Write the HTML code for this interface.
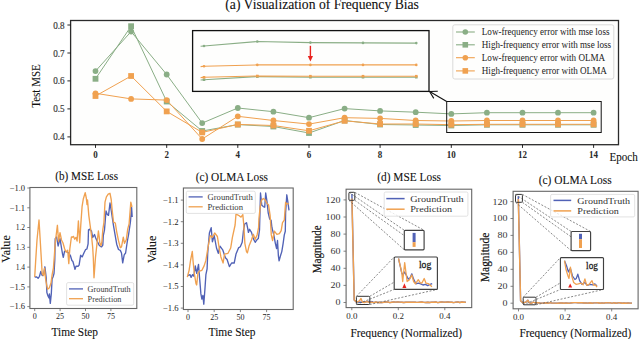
<!DOCTYPE html>
<html><head><meta charset="utf-8"><style>html,body{margin:0;padding:0;background:#fff;}svg{display:block;}</style></head>
<body><svg width="640" height="339" viewBox="0 0 640 339" font-family="Liberation Serif">
<rect width="640" height="339" fill="#fff"/>
<rect x="70.6" y="20.5" width="547.9" height="124.2" fill="#fefefd" stroke="#2a2a2a" stroke-width="1.3"/>
<line x1="67.4" y1="136.9" x2="70.6" y2="136.9" stroke="#111" stroke-width="0.9"/>
<text x="64.6" y="140.4" font-size="9.8" text-anchor="end" font-weight="normal" fill="#3c3c3c" font-family="Liberation Serif" textLength="11.4" lengthAdjust="spacingAndGlyphs" stroke="#3c3c3c" stroke-width="0.20">0.4</text>
<line x1="67.4" y1="108.9" x2="70.6" y2="108.9" stroke="#111" stroke-width="0.9"/>
<text x="64.6" y="112.4" font-size="9.8" text-anchor="end" font-weight="normal" fill="#3c3c3c" font-family="Liberation Serif" textLength="11.4" lengthAdjust="spacingAndGlyphs" stroke="#3c3c3c" stroke-width="0.20">0.5</text>
<line x1="67.4" y1="80.9" x2="70.6" y2="80.9" stroke="#111" stroke-width="0.9"/>
<text x="64.6" y="84.4" font-size="9.8" text-anchor="end" font-weight="normal" fill="#3c3c3c" font-family="Liberation Serif" textLength="11.4" lengthAdjust="spacingAndGlyphs" stroke="#3c3c3c" stroke-width="0.20">0.6</text>
<line x1="67.4" y1="53.0" x2="70.6" y2="53.0" stroke="#111" stroke-width="0.9"/>
<text x="64.6" y="56.5" font-size="9.8" text-anchor="end" font-weight="normal" fill="#3c3c3c" font-family="Liberation Serif" textLength="11.4" lengthAdjust="spacingAndGlyphs" stroke="#3c3c3c" stroke-width="0.20">0.7</text>
<line x1="67.4" y1="25.0" x2="70.6" y2="25.0" stroke="#111" stroke-width="0.9"/>
<text x="64.6" y="28.5" font-size="9.8" text-anchor="end" font-weight="normal" fill="#3c3c3c" font-family="Liberation Serif" textLength="11.4" lengthAdjust="spacingAndGlyphs" stroke="#3c3c3c" stroke-width="0.20">0.8</text>
<line x1="95.5" y1="144.7" x2="95.5" y2="147.9" stroke="#111" stroke-width="0.9"/>
<text x="95.5" y="158.0" font-size="9.8" text-anchor="middle" font-weight="bold" fill="#2a2a2a" font-family="Liberation Serif" textLength="4.5" lengthAdjust="spacingAndGlyphs">0</text>
<line x1="166.7" y1="144.7" x2="166.7" y2="147.9" stroke="#111" stroke-width="0.9"/>
<text x="166.7" y="158.0" font-size="9.8" text-anchor="middle" font-weight="bold" fill="#2a2a2a" font-family="Liberation Serif" textLength="4.5" lengthAdjust="spacingAndGlyphs">2</text>
<line x1="237.8" y1="144.7" x2="237.8" y2="147.9" stroke="#111" stroke-width="0.9"/>
<text x="237.8" y="158.0" font-size="9.8" text-anchor="middle" font-weight="bold" fill="#2a2a2a" font-family="Liberation Serif" textLength="4.5" lengthAdjust="spacingAndGlyphs">4</text>
<line x1="309.0" y1="144.7" x2="309.0" y2="147.9" stroke="#111" stroke-width="0.9"/>
<text x="309.0" y="158.0" font-size="9.8" text-anchor="middle" font-weight="bold" fill="#2a2a2a" font-family="Liberation Serif" textLength="4.5" lengthAdjust="spacingAndGlyphs">6</text>
<line x1="380.1" y1="144.7" x2="380.1" y2="147.9" stroke="#111" stroke-width="0.9"/>
<text x="380.1" y="158.0" font-size="9.8" text-anchor="middle" font-weight="bold" fill="#2a2a2a" font-family="Liberation Serif" textLength="4.5" lengthAdjust="spacingAndGlyphs">8</text>
<line x1="451.3" y1="144.7" x2="451.3" y2="147.9" stroke="#111" stroke-width="0.9"/>
<text x="451.3" y="158.0" font-size="9.8" text-anchor="middle" font-weight="bold" fill="#2a2a2a" font-family="Liberation Serif" textLength="9.0" lengthAdjust="spacingAndGlyphs">10</text>
<line x1="522.5" y1="144.7" x2="522.5" y2="147.9" stroke="#111" stroke-width="0.9"/>
<text x="522.5" y="158.0" font-size="9.8" text-anchor="middle" font-weight="bold" fill="#2a2a2a" font-family="Liberation Serif" textLength="9.0" lengthAdjust="spacingAndGlyphs">12</text>
<line x1="593.6" y1="144.7" x2="593.6" y2="147.9" stroke="#111" stroke-width="0.9"/>
<text x="593.6" y="158.0" font-size="9.8" text-anchor="middle" font-weight="bold" fill="#2a2a2a" font-family="Liberation Serif" textLength="9.0" lengthAdjust="spacingAndGlyphs">14</text>
<text x="609.5" y="161.4" font-size="12.4" text-anchor="start" font-weight="normal" fill="#111" font-family="Liberation Serif" textLength="28.3" lengthAdjust="spacingAndGlyphs" stroke="#111" stroke-width="0.10">Epoch</text>
<text transform="translate(40.2,86) rotate(-90)" x="0" y="0" font-size="12.2" text-anchor="middle" font-family="Liberation Serif" fill="#111" stroke="#111" stroke-width="0.1" textLength="43.6" lengthAdjust="spacingAndGlyphs">Test MSE</text>
<text x="225.3" y="9.0" font-size="13.8" text-anchor="start" font-weight="normal" fill="#111" font-family="Liberation Serif" textLength="193.6" lengthAdjust="spacingAndGlyphs" stroke="#111" stroke-width="0.10">(a) Visualization of Frequency Bias</text>
<polyline points="95.5,71.1 131.1,31.6 166.7,74.5 202.2,123.1 237.8,108.0 273.4,111.7 309.0,117.7 344.6,108.6 380.1,110.9 415.7,112.2 451.3,113.9 486.9,112.7 522.5,112.7 558.0,112.7 593.6,112.7" fill="none" stroke="#8aae86" stroke-width="1.0" stroke-linejoin="round"/>
<circle cx="95.5" cy="71.1" r="2.9" fill="#8aae86"/>
<circle cx="131.1" cy="31.6" r="2.9" fill="#8aae86"/>
<circle cx="166.7" cy="74.5" r="2.9" fill="#8aae86"/>
<circle cx="202.2" cy="123.1" r="2.9" fill="#8aae86"/>
<circle cx="237.8" cy="108.0" r="2.9" fill="#8aae86"/>
<circle cx="273.4" cy="111.7" r="2.9" fill="#8aae86"/>
<circle cx="309.0" cy="117.7" r="2.9" fill="#8aae86"/>
<circle cx="344.6" cy="108.6" r="2.9" fill="#8aae86"/>
<circle cx="380.1" cy="110.9" r="2.9" fill="#8aae86"/>
<circle cx="415.7" cy="112.2" r="2.9" fill="#8aae86"/>
<circle cx="451.3" cy="113.9" r="2.9" fill="#8aae86"/>
<circle cx="486.9" cy="112.7" r="2.9" fill="#8aae86"/>
<circle cx="522.5" cy="112.7" r="2.9" fill="#8aae86"/>
<circle cx="558.0" cy="112.7" r="2.9" fill="#8aae86"/>
<circle cx="593.6" cy="112.7" r="2.9" fill="#8aae86"/>
<polyline points="95.5,78.8 131.1,26.2 166.7,101.5 202.2,131.0 237.8,124.6 273.4,126.5 309.0,133.0 344.6,120.5 380.1,124.5 415.7,125.0 451.3,125.5 486.9,124.8 522.5,124.8 558.0,124.8 593.6,124.8" fill="none" stroke="#8aae86" stroke-width="1.0" stroke-linejoin="round"/>
<rect x="92.6" y="75.9" width="5.8" height="5.8" fill="#8aae86"/>
<rect x="128.2" y="23.3" width="5.8" height="5.8" fill="#8aae86"/>
<rect x="163.8" y="98.6" width="5.8" height="5.8" fill="#8aae86"/>
<rect x="199.3" y="128.1" width="5.8" height="5.8" fill="#8aae86"/>
<rect x="234.9" y="121.7" width="5.8" height="5.8" fill="#8aae86"/>
<rect x="270.5" y="123.6" width="5.8" height="5.8" fill="#8aae86"/>
<rect x="306.1" y="130.1" width="5.8" height="5.8" fill="#8aae86"/>
<rect x="341.7" y="117.6" width="5.8" height="5.8" fill="#8aae86"/>
<rect x="377.2" y="121.6" width="5.8" height="5.8" fill="#8aae86"/>
<rect x="412.8" y="122.1" width="5.8" height="5.8" fill="#8aae86"/>
<rect x="448.4" y="122.6" width="5.8" height="5.8" fill="#8aae86"/>
<rect x="484.0" y="121.9" width="5.8" height="5.8" fill="#8aae86"/>
<rect x="519.6" y="121.9" width="5.8" height="5.8" fill="#8aae86"/>
<rect x="555.1" y="121.9" width="5.8" height="5.8" fill="#8aae86"/>
<rect x="590.7" y="121.9" width="5.8" height="5.8" fill="#8aae86"/>
<polyline points="95.5,93.3 131.1,98.9 166.7,100.1 202.2,139.0 237.8,116.3 273.4,120.5 309.0,124.1 344.6,117.7 380.1,118.4 415.7,120.5 451.3,121.0 486.9,120.5 522.5,120.5 558.0,120.5 593.6,120.5" fill="none" stroke="#f0a150" stroke-width="1.0" stroke-linejoin="round"/>
<circle cx="95.5" cy="93.3" r="2.9" fill="#f0a150"/>
<circle cx="131.1" cy="98.9" r="2.9" fill="#f0a150"/>
<circle cx="166.7" cy="100.1" r="2.9" fill="#f0a150"/>
<circle cx="202.2" cy="139.0" r="2.9" fill="#f0a150"/>
<circle cx="237.8" cy="116.3" r="2.9" fill="#f0a150"/>
<circle cx="273.4" cy="120.5" r="2.9" fill="#f0a150"/>
<circle cx="309.0" cy="124.1" r="2.9" fill="#f0a150"/>
<circle cx="344.6" cy="117.7" r="2.9" fill="#f0a150"/>
<circle cx="380.1" cy="118.4" r="2.9" fill="#f0a150"/>
<circle cx="415.7" cy="120.5" r="2.9" fill="#f0a150"/>
<circle cx="451.3" cy="121.0" r="2.9" fill="#f0a150"/>
<circle cx="486.9" cy="120.5" r="2.9" fill="#f0a150"/>
<circle cx="522.5" cy="120.5" r="2.9" fill="#f0a150"/>
<circle cx="558.0" cy="120.5" r="2.9" fill="#f0a150"/>
<circle cx="593.6" cy="120.5" r="2.9" fill="#f0a150"/>
<polyline points="95.5,96.0 131.1,76.0 166.7,111.4 202.2,132.4 237.8,124.4 273.4,125.5 309.0,130.8 344.6,120.8 380.1,124.0 415.7,124.0 451.3,124.7 486.9,124.3 522.5,124.3 558.0,124.3 593.6,124.3" fill="none" stroke="#f0a150" stroke-width="1.0" stroke-linejoin="round"/>
<rect x="92.6" y="93.1" width="5.8" height="5.8" fill="#f0a150"/>
<rect x="128.2" y="73.1" width="5.8" height="5.8" fill="#f0a150"/>
<rect x="163.8" y="108.5" width="5.8" height="5.8" fill="#f0a150"/>
<rect x="199.3" y="129.5" width="5.8" height="5.8" fill="#f0a150"/>
<rect x="234.9" y="121.5" width="5.8" height="5.8" fill="#f0a150"/>
<rect x="270.5" y="122.6" width="5.8" height="5.8" fill="#f0a150"/>
<rect x="306.1" y="127.9" width="5.8" height="5.8" fill="#f0a150"/>
<rect x="341.7" y="117.9" width="5.8" height="5.8" fill="#f0a150"/>
<rect x="377.2" y="121.1" width="5.8" height="5.8" fill="#f0a150"/>
<rect x="412.8" y="121.1" width="5.8" height="5.8" fill="#f0a150"/>
<rect x="448.4" y="121.8" width="5.8" height="5.8" fill="#f0a150"/>
<rect x="484.0" y="121.4" width="5.8" height="5.8" fill="#f0a150"/>
<rect x="519.6" y="121.4" width="5.8" height="5.8" fill="#f0a150"/>
<rect x="555.1" y="121.4" width="5.8" height="5.8" fill="#f0a150"/>
<rect x="590.7" y="121.4" width="5.8" height="5.8" fill="#f0a150"/>
<rect x="446.7" y="101.5" width="154.5" height="31" fill="none" stroke="#111" stroke-width="1"/>
<rect x="192.6" y="30.6" width="236.4" height="60.8" fill="#fefefd" stroke="#111" stroke-width="1.3"/>
<polyline points="200.6,46.3 204.0,46.0 257.3,41.5 310.4,42.6 363.0,42.9 416.3,43.1" fill="none" stroke="#8aae86" stroke-width="1.1"/>
<circle cx="204.0" cy="46.0" r="1.3" fill="#8aae86"/>
<circle cx="257.3" cy="41.5" r="1.3" fill="#8aae86"/>
<circle cx="310.4" cy="42.6" r="1.3" fill="#8aae86"/>
<circle cx="363.0" cy="42.9" r="1.3" fill="#8aae86"/>
<circle cx="416.3" cy="43.1" r="1.3" fill="#8aae86"/>
<polyline points="200.6,80.0 204.0,79.7 257.3,76.6 310.4,77.2 363.0,77.2 416.3,77.2" fill="none" stroke="#8aae86" stroke-width="1.1"/>
<rect x="202.7" y="78.4" width="2.6" height="2.6" fill="#8aae86"/>
<rect x="256.0" y="75.3" width="2.6" height="2.6" fill="#8aae86"/>
<rect x="309.1" y="75.9" width="2.6" height="2.6" fill="#8aae86"/>
<rect x="361.7" y="75.9" width="2.6" height="2.6" fill="#8aae86"/>
<rect x="415.0" y="75.9" width="2.6" height="2.6" fill="#8aae86"/>
<polyline points="200.6,66.6 204.0,66.3 257.3,64.9 310.4,64.9 363.0,64.9 416.3,64.9" fill="none" stroke="#f0a150" stroke-width="1.1"/>
<circle cx="204.0" cy="66.3" r="1.3" fill="#f0a150"/>
<circle cx="257.3" cy="64.9" r="1.3" fill="#f0a150"/>
<circle cx="310.4" cy="64.9" r="1.3" fill="#f0a150"/>
<circle cx="363.0" cy="64.9" r="1.3" fill="#f0a150"/>
<circle cx="416.3" cy="64.9" r="1.3" fill="#f0a150"/>
<polyline points="200.6,77.6 204.0,77.3 257.3,76.0 310.4,76.2 363.0,76.2 416.3,76.2" fill="none" stroke="#f0a150" stroke-width="1.1"/>
<rect x="202.7" y="76.0" width="2.6" height="2.6" fill="#f0a150"/>
<rect x="256.0" y="74.7" width="2.6" height="2.6" fill="#f0a150"/>
<rect x="309.1" y="74.9" width="2.6" height="2.6" fill="#f0a150"/>
<rect x="361.7" y="74.9" width="2.6" height="2.6" fill="#f0a150"/>
<rect x="415.0" y="74.9" width="2.6" height="2.6" fill="#f0a150"/>
<line x1="310.4" y1="45.8" x2="310.4" y2="57" stroke="#e8231e" stroke-width="1.4"/>
<polygon points="307.8,56 313,56 310.4,61.5" fill="#e8231e"/>
<line x1="446.7" y1="101.5" x2="430.5" y2="92" stroke="#111" stroke-width="1.1"/>
<polyline points="437.8,91.3 429.6,91.5 433.8,98.4" fill="none" stroke="#111" stroke-width="1.1"/>
<rect x="452.8" y="24.8" width="161" height="54.2" rx="2" fill="#fefefd" stroke="#d6d6d6" stroke-width="0.9"/>
<line x1="456" y1="32.0" x2="474.8" y2="32.0" stroke="#8aae86" stroke-width="1.1"/>
<circle cx="465.3" cy="32.0" r="2.8" fill="#8aae86"/>
<text x="481.8" y="35.3" font-size="9.3" text-anchor="start" font-weight="normal" fill="#222" font-family="Liberation Serif" textLength="127.7" lengthAdjust="spacingAndGlyphs">Low-frequency error with mse loss</text>
<line x1="456" y1="44.8" x2="474.8" y2="44.8" stroke="#8aae86" stroke-width="1.1"/>
<rect x="462.5" y="42.0" width="5.6" height="5.6" fill="#8aae86"/>
<text x="481.8" y="48.1" font-size="9.3" text-anchor="start" font-weight="normal" fill="#222" font-family="Liberation Serif" textLength="129.3" lengthAdjust="spacingAndGlyphs">High-frequency error with mse loss</text>
<line x1="456" y1="57.7" x2="474.8" y2="57.7" stroke="#f0a150" stroke-width="1.1"/>
<circle cx="465.3" cy="57.7" r="2.8" fill="#f0a150"/>
<text x="481.8" y="61.0" font-size="9.3" text-anchor="start" font-weight="normal" fill="#222" font-family="Liberation Serif" textLength="123.4" lengthAdjust="spacingAndGlyphs">Low-frequency error with OLMA</text>
<line x1="456" y1="70.9" x2="474.8" y2="70.9" stroke="#f0a150" stroke-width="1.1"/>
<rect x="462.5" y="68.1" width="5.6" height="5.6" fill="#f0a150"/>
<text x="481.8" y="74.2" font-size="9.3" text-anchor="start" font-weight="normal" fill="#222" font-family="Liberation Serif" textLength="125.0" lengthAdjust="spacingAndGlyphs">High-frequency error with OLMA</text>
<rect x="29.9" y="187.5" width="106.9" height="121.0" fill="#fff" stroke="#666" stroke-width="1.1"/>
<line x1="27.3" y1="188.0" x2="29.9" y2="188.0" stroke="#666" stroke-width="0.8"/>
<text x="25.1" y="190.8" font-size="8.0" text-anchor="end" font-weight="normal" fill="#222" font-family="Liberation Serif" textLength="15.4" lengthAdjust="spacingAndGlyphs">−1.0</text>
<line x1="27.3" y1="207.8" x2="29.9" y2="207.8" stroke="#666" stroke-width="0.8"/>
<text x="25.1" y="210.6" font-size="8.0" text-anchor="end" font-weight="normal" fill="#222" font-family="Liberation Serif" textLength="15.4" lengthAdjust="spacingAndGlyphs">−1.1</text>
<line x1="27.3" y1="227.5" x2="29.9" y2="227.5" stroke="#666" stroke-width="0.8"/>
<text x="25.1" y="230.3" font-size="8.0" text-anchor="end" font-weight="normal" fill="#222" font-family="Liberation Serif" textLength="9.4" lengthAdjust="spacingAndGlyphs">1.2</text>
<line x1="27.3" y1="247.3" x2="29.9" y2="247.3" stroke="#666" stroke-width="0.8"/>
<text x="25.1" y="250.1" font-size="8.0" text-anchor="end" font-weight="normal" fill="#222" font-family="Liberation Serif" textLength="9.4" lengthAdjust="spacingAndGlyphs">1.3</text>
<line x1="27.3" y1="267.1" x2="29.9" y2="267.1" stroke="#666" stroke-width="0.8"/>
<text x="25.1" y="269.9" font-size="8.0" text-anchor="end" font-weight="normal" fill="#222" font-family="Liberation Serif" textLength="9.4" lengthAdjust="spacingAndGlyphs">1.4</text>
<line x1="27.3" y1="286.9" x2="29.9" y2="286.9" stroke="#666" stroke-width="0.8"/>
<text x="25.1" y="289.7" font-size="8.0" text-anchor="end" font-weight="normal" fill="#222" font-family="Liberation Serif" textLength="15.4" lengthAdjust="spacingAndGlyphs">−1.5</text>
<line x1="27.3" y1="306.6" x2="29.9" y2="306.6" stroke="#666" stroke-width="0.8"/>
<text x="25.1" y="309.4" font-size="8.0" text-anchor="end" font-weight="normal" fill="#222" font-family="Liberation Serif" textLength="15.4" lengthAdjust="spacingAndGlyphs">−1.6</text>
<line x1="34.7" y1="308.5" x2="34.7" y2="311.1" stroke="#666" stroke-width="0.8"/>
<text x="34.7" y="318.7" font-size="8.0" text-anchor="middle" font-weight="normal" fill="#222" font-family="Liberation Serif">0</text>
<line x1="60.1" y1="308.5" x2="60.1" y2="311.1" stroke="#666" stroke-width="0.8"/>
<text x="60.1" y="318.7" font-size="8.0" text-anchor="middle" font-weight="normal" fill="#222" font-family="Liberation Serif">25</text>
<line x1="85.5" y1="308.5" x2="85.5" y2="311.1" stroke="#666" stroke-width="0.8"/>
<text x="85.5" y="318.7" font-size="8.0" text-anchor="middle" font-weight="normal" fill="#222" font-family="Liberation Serif">50</text>
<line x1="110.9" y1="308.5" x2="110.9" y2="311.1" stroke="#666" stroke-width="0.8"/>
<text x="110.9" y="318.7" font-size="8.0" text-anchor="middle" font-weight="normal" fill="#222" font-family="Liberation Serif">75</text>
<text x="55.3" y="180.0" font-size="12.4" text-anchor="start" font-weight="normal" fill="#111" font-family="Liberation Serif" textLength="62.7" lengthAdjust="spacingAndGlyphs" stroke="#111" stroke-width="0.10">(b) MSE Loss</text>
<polyline points="34.7,277.0 36.7,277.0 38.1,278.3 39.5,276.3 40.8,271.5 42.2,275.6 43.5,274.9 44.9,266.8 46.2,277.6 46.9,292.6 48.0,296.0 49.0,298.0 49.4,293.9 50.3,303.4 51.3,293.9 52.1,279.0 53.0,277.0 54.0,273.6 54.8,260.0 55.2,238.6 56.6,237.0 58.1,246.0 60.0,238.6 61.5,248.0 62.6,254.3 63.3,257.4 64.6,251.2 66.7,251.7 68.3,252.7 70.3,255.3 71.9,260.5 72.9,261.5 73.9,265.1 75.0,269.3 76.0,266.2 78.1,266.2 79.1,265.1 80.6,255.3 82.2,256.9 84.0,252.7 85.5,249.7 86.9,249.0 88.1,243.8 88.5,229.8 89.8,229.2 91.5,231.0 92.7,237.5 94.5,234.5 95.7,238.0 97.4,241.6 99.2,245.2 100.4,246.3 101.6,246.9 102.8,245.2 103.3,235.7 104.5,229.8 106.0,211.0 107.3,214.5 108.5,215.4 110.0,203.0 111.3,211.0 113.5,225.6 115.3,236.2 116.7,244.2 118.5,249.5 120.3,250.4 121.5,253.0 122.7,262.8 124.2,254.8 125.6,253.0 127.3,241.5 128.6,234.5 130.4,222.1 131.6,207.5 132.2,217.0" fill="none" stroke="#5162b6" stroke-width="1.35" stroke-linejoin="round"/>
<polyline points="34.7,277.0 35.6,262.0 37.0,240.0 39.0,220.0 40.5,245.0 41.5,262.0 42.2,273.6 43.5,275.6 44.5,268.1 45.6,279.0 46.7,285.1 47.6,289.2 49.4,287.8 51.0,283.0 52.1,274.9 53.4,268.1 54.4,255.0 55.2,243.0 57.4,225.3 58.6,241.5 60.0,232.7 61.5,240.0 63.0,243.0 64.7,249.0 66.2,252.2 67.7,250.2 68.8,263.6 69.8,249.1 71.4,237.0 72.0,237.4 73.5,236.4 74.7,239.2 76.0,237.4 77.1,241.0 78.4,220.9 79.7,242.8 80.8,224.6 82.1,206.3 83.3,199.0 85.2,192.6 86.3,198.0 87.0,204.5 87.5,199.9 88.8,215.4 90.4,227.4 91.5,235.7 92.7,247.5 93.3,258.0 94.0,277.8 95.5,257.1 96.3,250.0 97.2,241.6 98.4,231.0 99.2,236.9 99.8,242.8 101.0,245.7 101.9,241.6 102.8,229.8 103.9,222.7 105.0,202.2 106.4,196.8 108.2,194.2 110.0,193.3 111.2,199.5 112.1,209.2 113.5,222.1 115.3,223.0 116.7,231.8 118.5,240.7 120.3,247.7 121.5,246.9 123.3,237.1 124.5,243.3 126.3,239.8 127.7,229.2 129.1,223.8 130.8,202.2 132.0,207.0" fill="none" stroke="#f0a150" stroke-width="1.35" stroke-linejoin="round"/>
<rect x="66.6" y="282.6" width="67.1" height="22.6" rx="1.5" fill="#fff" fill-opacity="0.85" stroke="#dadada" stroke-width="0.8"/>
<line x1="69.0" y1="288.9" x2="83.0" y2="288.9" stroke="#5162b6" stroke-width="1.3"/>
<line x1="69.0" y1="298.7" x2="83.0" y2="298.7" stroke="#f0a150" stroke-width="1.3"/>
<text x="87.6" y="291.8" font-size="8.9" text-anchor="start" font-weight="normal" fill="#3a3a3a" font-family="Liberation Serif" textLength="43.1" lengthAdjust="spacingAndGlyphs">GroundTruth</text>
<text x="87.6" y="301.6" font-size="8.9" text-anchor="start" font-weight="normal" fill="#3a3a3a" font-family="Liberation Serif" textLength="33.8" lengthAdjust="spacingAndGlyphs">Prediction</text>
<text x="51.5" y="336.0" font-size="12.8" text-anchor="start" font-weight="normal" fill="#111" font-family="Liberation Serif" textLength="46.5" lengthAdjust="spacingAndGlyphs" stroke="#111" stroke-width="0.10">Time Step</text>
<text transform="translate(10.2,249.0) rotate(-90)" x="0" y="0" font-size="13" text-anchor="middle" font-family="Liberation Serif" fill="#111" stroke="#111" stroke-width="0.12" textLength="27.5" lengthAdjust="spacingAndGlyphs">Value</text>
<rect x="183.4" y="188.0" width="109.8" height="121.5" fill="#fff" stroke="#666" stroke-width="1.1"/>
<line x1="180.8" y1="200.1" x2="183.4" y2="200.1" stroke="#666" stroke-width="0.8"/>
<text x="178.6" y="202.9" font-size="8.0" text-anchor="end" font-weight="normal" fill="#222" font-family="Liberation Serif" textLength="15.6" lengthAdjust="spacingAndGlyphs">−1.1</text>
<line x1="180.8" y1="221.7" x2="183.4" y2="221.7" stroke="#666" stroke-width="0.8"/>
<text x="178.6" y="224.5" font-size="8.0" text-anchor="end" font-weight="normal" fill="#222" font-family="Liberation Serif" textLength="15.6" lengthAdjust="spacingAndGlyphs">−1.2</text>
<line x1="180.8" y1="243.3" x2="183.4" y2="243.3" stroke="#666" stroke-width="0.8"/>
<text x="178.6" y="246.1" font-size="8.0" text-anchor="end" font-weight="normal" fill="#222" font-family="Liberation Serif" textLength="15.6" lengthAdjust="spacingAndGlyphs">−1.3</text>
<line x1="180.8" y1="264.9" x2="183.4" y2="264.9" stroke="#666" stroke-width="0.8"/>
<text x="178.6" y="267.7" font-size="8.0" text-anchor="end" font-weight="normal" fill="#222" font-family="Liberation Serif" textLength="15.6" lengthAdjust="spacingAndGlyphs">−1.4</text>
<line x1="180.8" y1="286.5" x2="183.4" y2="286.5" stroke="#666" stroke-width="0.8"/>
<text x="178.6" y="289.3" font-size="8.0" text-anchor="end" font-weight="normal" fill="#222" font-family="Liberation Serif" textLength="15.6" lengthAdjust="spacingAndGlyphs">−1.5</text>
<line x1="180.8" y1="308.1" x2="183.4" y2="308.1" stroke="#666" stroke-width="0.8"/>
<text x="178.6" y="310.9" font-size="8.0" text-anchor="end" font-weight="normal" fill="#222" font-family="Liberation Serif" textLength="15.6" lengthAdjust="spacingAndGlyphs">−1.6</text>
<line x1="188.0" y1="309.5" x2="188.0" y2="312.1" stroke="#666" stroke-width="0.8"/>
<text x="188.0" y="319.7" font-size="8.0" text-anchor="middle" font-weight="normal" fill="#222" font-family="Liberation Serif">0</text>
<line x1="214.2" y1="309.5" x2="214.2" y2="312.1" stroke="#666" stroke-width="0.8"/>
<text x="214.2" y="319.7" font-size="8.0" text-anchor="middle" font-weight="normal" fill="#222" font-family="Liberation Serif">25</text>
<line x1="240.4" y1="309.5" x2="240.4" y2="312.1" stroke="#666" stroke-width="0.8"/>
<text x="240.4" y="319.7" font-size="8.0" text-anchor="middle" font-weight="normal" fill="#222" font-family="Liberation Serif">50</text>
<line x1="266.6" y1="309.5" x2="266.6" y2="312.1" stroke="#666" stroke-width="0.8"/>
<text x="266.6" y="319.7" font-size="8.0" text-anchor="middle" font-weight="normal" fill="#222" font-family="Liberation Serif">75</text>
<text x="195.7" y="181.0" font-size="12.4" text-anchor="start" font-weight="normal" fill="#111" font-family="Liberation Serif" textLength="72.3" lengthAdjust="spacingAndGlyphs" stroke="#111" stroke-width="0.10">(c) OLMA Loss</text>
<polyline points="187.9,275.5 190.1,274.7 191.1,277.4 192.6,274.7 193.8,276.2 195.3,265.9 196.7,273.3 198.5,264.4 199.7,279.2 200.9,293.9 201.9,299.1 202.9,295.4 203.8,304.2 204.9,289.5 205.9,274.7 207.1,268.8 207.7,253.3 209.4,233.0 211.2,227.7 212.4,241.8 214.2,235.6 216.5,248.0 218.3,253.3 220.0,246.2 222.7,249.8 225.4,257.7 227.1,259.5 229.4,266.6 231.6,263.0 234.2,263.0 236.0,254.1 238.5,247.9 240.3,246.7 242.2,242.3 243.4,231.2 244.7,224.0 246.5,222.7 247.8,228.9 248.4,232.4 249.6,229.3 251.5,232.4 253.3,238.6 255.2,242.3 256.8,239.9 258.3,238.6 259.5,230.0 260.5,193.0 261.8,205.3 263.3,206.6 264.7,207.2 265.7,193.0 267.0,201.6 268.2,212.8 269.7,219.0 271.1,220.2 271.9,227.5 273.8,234.9 275.4,243.6 276.6,248.5 277.5,240.5 278.4,256.0 279.1,260.9 280.4,256.0 281.8,251.6 283.1,243.6 284.3,234.9 285.3,231.2 285.6,212.8 286.8,194.8 288.0,202.9 289.0,210.3" fill="none" stroke="#5162b6" stroke-width="1.35" stroke-linejoin="round"/>
<polyline points="187.3,277.2 189.1,270.3 190.6,260.0 192.3,251.5 193.1,261.5 194.5,274.7 196.0,283.6 196.7,285.0 197.9,273.3 199.4,271.1 201.9,270.3 204.1,265.9 205.9,260.4 208.2,246.2 210.3,235.6 212.4,237.4 214.7,233.0 217.4,236.5 219.2,248.0 220.9,256.9 223.1,263.0 224.5,254.2 228.0,253.3 230.7,248.0 232.4,237.4 235.1,225.0 236.0,214.0 238.5,215.3 241.0,217.1 242.8,214.6 243.7,224.0 244.9,243.6 246.5,251.6 247.4,252.9 249.0,246.1 251.5,239.9 253.3,234.3 255.2,239.3 257.1,234.9 258.6,227.5 258.9,219.0 260.2,206.6 261.4,200.4 263.3,198.5 265.1,199.8 267.0,203.5 268.5,204.7 270.1,215.3 271.3,234.9 272.6,240.5 274.4,231.2 276.9,234.3 279.4,233.7 281.2,230.6 282.5,222.7 284.3,220.2 285.6,202.3 286.8,204.1 288.7,203.5" fill="none" stroke="#f0a150" stroke-width="1.35" stroke-linejoin="round"/>
<rect x="186.3" y="191.2" width="69.0" height="22.2" rx="1.5" fill="#fff" fill-opacity="0.85" stroke="#dadada" stroke-width="0.8"/>
<line x1="188.6" y1="196.9" x2="202.7" y2="196.9" stroke="#5162b6" stroke-width="1.3"/>
<line x1="188.6" y1="206.8" x2="202.7" y2="206.8" stroke="#f0a150" stroke-width="1.3"/>
<text x="207.5" y="199.8" font-size="9.2" text-anchor="start" font-weight="normal" fill="#3a3a3a" font-family="Liberation Serif" textLength="45.2" lengthAdjust="spacingAndGlyphs">GroundTruth</text>
<text x="207.5" y="209.7" font-size="9.2" text-anchor="start" font-weight="normal" fill="#3a3a3a" font-family="Liberation Serif" textLength="35.5" lengthAdjust="spacingAndGlyphs">Prediction</text>
<text x="208.6" y="336.0" font-size="12.8" text-anchor="start" font-weight="normal" fill="#111" font-family="Liberation Serif" textLength="46.9" lengthAdjust="spacingAndGlyphs" stroke="#111" stroke-width="0.10">Time Step</text>
<text transform="translate(156.2,249.3) rotate(-90)" x="0" y="0" font-size="13" text-anchor="middle" font-family="Liberation Serif" fill="#111" stroke="#111" stroke-width="0.12" textLength="27.2" lengthAdjust="spacingAndGlyphs">Value</text>
<rect x="346.1" y="189.2" width="125.6" height="118.4" fill="#fff" stroke="#666" stroke-width="1.1"/>
<line x1="343.5" y1="302.5" x2="346.1" y2="302.5" stroke="#666" stroke-width="0.8"/>
<text x="340.5" y="305.4" font-size="8.6" text-anchor="end" font-weight="normal" fill="#333" font-family="Liberation Serif" textLength="5.0" lengthAdjust="spacingAndGlyphs">0</text>
<line x1="343.5" y1="285.4" x2="346.1" y2="285.4" stroke="#666" stroke-width="0.8"/>
<text x="340.5" y="288.3" font-size="8.6" text-anchor="end" font-weight="normal" fill="#333" font-family="Liberation Serif" textLength="10.0" lengthAdjust="spacingAndGlyphs">20</text>
<line x1="343.5" y1="268.3" x2="346.1" y2="268.3" stroke="#666" stroke-width="0.8"/>
<text x="340.5" y="271.2" font-size="8.6" text-anchor="end" font-weight="normal" fill="#333" font-family="Liberation Serif" textLength="10.0" lengthAdjust="spacingAndGlyphs">40</text>
<line x1="343.5" y1="251.2" x2="346.1" y2="251.2" stroke="#666" stroke-width="0.8"/>
<text x="340.5" y="254.1" font-size="8.6" text-anchor="end" font-weight="normal" fill="#333" font-family="Liberation Serif" textLength="10.0" lengthAdjust="spacingAndGlyphs">60</text>
<line x1="343.5" y1="234.1" x2="346.1" y2="234.1" stroke="#666" stroke-width="0.8"/>
<text x="340.5" y="237.0" font-size="8.6" text-anchor="end" font-weight="normal" fill="#333" font-family="Liberation Serif" textLength="10.0" lengthAdjust="spacingAndGlyphs">80</text>
<line x1="343.5" y1="217.0" x2="346.1" y2="217.0" stroke="#666" stroke-width="0.8"/>
<text x="340.5" y="219.9" font-size="8.6" text-anchor="end" font-weight="normal" fill="#333" font-family="Liberation Serif" textLength="15.0" lengthAdjust="spacingAndGlyphs">100</text>
<line x1="343.5" y1="199.9" x2="346.1" y2="199.9" stroke="#666" stroke-width="0.8"/>
<text x="340.5" y="202.8" font-size="8.6" text-anchor="end" font-weight="normal" fill="#333" font-family="Liberation Serif" textLength="15.0" lengthAdjust="spacingAndGlyphs">120</text>
<line x1="351.8" y1="307.6" x2="351.8" y2="310.2" stroke="#666" stroke-width="0.8"/>
<text x="351.8" y="318.6" font-size="8.8" text-anchor="middle" font-weight="normal" fill="#2a2a2a" font-family="Liberation Serif" textLength="11.2" lengthAdjust="spacingAndGlyphs">0.0</text>
<line x1="398.3" y1="307.6" x2="398.3" y2="310.2" stroke="#666" stroke-width="0.8"/>
<text x="398.3" y="318.6" font-size="8.8" text-anchor="middle" font-weight="normal" fill="#2a2a2a" font-family="Liberation Serif" textLength="11.2" lengthAdjust="spacingAndGlyphs">0.2</text>
<line x1="444.8" y1="307.6" x2="444.8" y2="310.2" stroke="#666" stroke-width="0.8"/>
<text x="444.8" y="318.6" font-size="8.8" text-anchor="middle" font-weight="normal" fill="#2a2a2a" font-family="Liberation Serif" textLength="11.2" lengthAdjust="spacingAndGlyphs">0.4</text>
<text x="377.3" y="181.4" font-size="12.4" text-anchor="start" font-weight="normal" fill="#111" font-family="Liberation Serif" textLength="63.7" lengthAdjust="spacingAndGlyphs" stroke="#111" stroke-width="0.10">(d) MSE Loss</text>
<text transform="translate(320.5,249.3) rotate(-90)" x="0" y="0" font-size="11.5" text-anchor="middle" font-family="Liberation Serif" fill="#111" stroke="#111" stroke-width="0.2" textLength="48.0" lengthAdjust="spacingAndGlyphs">Magnitude</text>
<text x="350.5" y="336.6" font-size="12.2" text-anchor="start" font-weight="normal" fill="#111" font-family="Liberation Serif" textLength="111.5" lengthAdjust="spacingAndGlyphs" stroke="#111" stroke-width="0.10">Frequency (Normalized)</text>
<polyline points="351.9,194.0 354.2,300.0 356.4,302.0 357.4,302.0 360.4,302.3 364.4,302.0 368.4,301.4 372.8,301.7 369.8,302.3 371.8,302.3 373.8,302.6 375.8,302.0 377.8,302.5 379.8,302.3 381.8,302.6 383.8,302.2 385.8,302.0 387.8,302.0 389.8,302.6 391.8,302.2 393.8,302.0 395.8,302.1 397.8,301.9 399.8,302.1 401.8,302.2 403.8,302.5 405.8,302.3 407.8,302.2 409.8,302.1 411.8,302.2 413.8,302.1 415.8,302.3 417.8,302.4 419.8,302.2 421.8,302.0 423.8,302.4 425.8,302.5 427.8,302.2 429.8,302.5 431.8,302.1 433.8,302.2 435.8,302.0 437.8,302.6 439.8,302.3 441.8,302.0 443.8,302.1 445.8,302.2 447.8,301.9 449.8,302.2 451.8,302.2 453.8,302.6 455.8,302.1 457.8,302.0 459.8,302.5 461.8,302.0 463.8,302.3 465.8,302.3" fill="none" stroke="#5162b6" stroke-width="1.4" stroke-linejoin="round"/>
<polyline points="351.9,198.6 354.2,300.0 356.4,302.0 357.4,302.0 359.4,300.8 361.0,298.5 362.4,302.0 364.4,302.6 366.4,301.5 368.4,302.2 369.8,302.3 371.8,302.3 373.8,302.6 375.8,302.0 377.8,302.5 379.8,302.3 381.8,302.6 383.8,302.2 385.8,302.0 387.8,302.0 389.8,302.6 391.8,302.2 393.8,302.0 395.8,302.1 397.8,301.9 399.8,302.1 401.8,302.2 403.8,302.5 405.8,302.3 407.8,302.2 409.8,302.1 411.8,302.2 413.8,302.1 415.8,302.3 417.8,302.4 419.8,302.2 421.8,302.0 423.8,302.4 425.8,302.5 427.8,302.2 429.8,302.5 431.8,302.1 433.8,302.2 435.8,302.0 437.8,302.6 439.8,302.3 441.8,302.0 443.8,302.1 445.8,302.2 447.8,301.9 449.8,302.2 451.8,302.2 453.8,302.6 455.8,302.1 457.8,302.0 459.8,302.5 461.8,302.0 463.8,302.3 465.8,302.3" fill="none" stroke="#f0a150" stroke-width="1.4" stroke-linejoin="round"/>
<line x1="348.9" y1="192.3" x2="404.3" y2="230.3" stroke="#555" stroke-width="0.7" stroke-dasharray="2,1.6"/>
<line x1="354.8" y1="192.3" x2="424.1" y2="230.3" stroke="#555" stroke-width="0.7" stroke-dasharray="2,1.6"/>
<line x1="348.9" y1="200.3" x2="404.3" y2="249.8" stroke="#555" stroke-width="0.7" stroke-dasharray="2,1.6"/>
<line x1="354.8" y1="200.3" x2="424.1" y2="249.8" stroke="#555" stroke-width="0.7" stroke-dasharray="2,1.6"/>
<line x1="356.4" y1="296.3" x2="394.2" y2="257.0" stroke="#555" stroke-width="0.7" stroke-dasharray="2,1.6"/>
<line x1="369.8" y1="296.3" x2="437.4" y2="257.0" stroke="#555" stroke-width="0.7" stroke-dasharray="2,1.6"/>
<line x1="356.4" y1="304.5" x2="394.2" y2="289.4" stroke="#555" stroke-width="0.7" stroke-dasharray="2,1.6"/>
<line x1="369.8" y1="304.5" x2="437.4" y2="289.4" stroke="#555" stroke-width="0.7" stroke-dasharray="2,1.6"/>
<rect x="348.9" y="192.3" width="5.9" height="8.0" rx="1" fill="none" stroke="#333" stroke-width="1"/>
<rect x="356.4" y="296.3" width="13.4" height="8.2" rx="1" fill="none" stroke="#333" stroke-width="1"/>
<rect x="384.2" y="192.0" width="83.7" height="24.2" rx="1.5" fill="#fff" fill-opacity="0.8" stroke="#dadada" stroke-width="0.8"/>
<line x1="386.3" y1="198.6" x2="404.6" y2="198.6" stroke="#5162b6" stroke-width="1.5"/>
<line x1="386.3" y1="209.2" x2="404.6" y2="209.2" stroke="#f0a150" stroke-width="1.5"/>
<text x="410.2" y="201.7" font-size="9.2" text-anchor="start" font-weight="normal" fill="#333" font-family="Liberation Serif" textLength="53.5" lengthAdjust="spacingAndGlyphs">GroundTruth</text>
<text x="410.2" y="212.3" font-size="9.2" text-anchor="start" font-weight="normal" fill="#333" font-family="Liberation Serif" textLength="41.9" lengthAdjust="spacingAndGlyphs">Prediction</text>
<rect x="404.3" y="230.3" width="19.8" height="19.5" rx="1" fill="#fff" stroke="#404040" stroke-width="1.15"/>
<rect x="412.6" y="232.9" width="3" height="9.3" fill="#5162b6"/>
<rect x="412.6" y="242.2" width="3" height="4.7" fill="#f0a150"/>
<rect x="394.2" y="257.0" width="43.2" height="32.4" rx="1" fill="#fff" stroke="#404040" stroke-width="1.15"/>
<polyline points="398.5,258.5 401.8,273.2 403.0,275.0 404.7,272.0 406.5,275.6 408.3,279.1 410.0,278.0 411.8,273.8 413.6,279.1 415.9,283.8 418.3,283.2 420.7,283.8 423.0,285.0 425.4,284.4 427.7,285.6 430.1,284.4 432.2,283.6" fill="none" stroke="#5162b6" stroke-width="1.3" stroke-linejoin="round"/>
<polyline points="398.5,258.5 400.6,267.3 401.8,273.2 402.7,281.5 404.7,262.6 405.9,272.0 407.1,281.5 408.9,280.3 410.6,277.4 411.8,275.0 413.6,281.5 415.4,283.8 418.3,279.7 420.1,282.7 421.8,283.2 424.2,278.5 426.0,283.2 428.3,283.6 430.1,285.0 431.9,286.8" fill="none" stroke="#f0a150" stroke-width="1.3" stroke-linejoin="round"/>
<polygon points="402.4,288.0 406.4,288.0 404.4,283.3" fill="#e8231e"/>
<text x="418.9" y="268.4" font-size="11.2" text-anchor="start" font-weight="normal" fill="#1a1a1a" font-family="Liberation Serif" textLength="12.4" lengthAdjust="spacingAndGlyphs" stroke="#1a1a1a" stroke-width="0.30">log</text>
<rect x="513.1" y="191.3" width="125.0" height="117.5" fill="#fff" stroke="#666" stroke-width="1.1"/>
<line x1="510.5" y1="303.2" x2="513.1" y2="303.2" stroke="#666" stroke-width="0.8"/>
<text x="507.5" y="306.1" font-size="8.6" text-anchor="end" font-weight="normal" fill="#333" font-family="Liberation Serif" textLength="5.0" lengthAdjust="spacingAndGlyphs">0</text>
<line x1="510.5" y1="286.3" x2="513.1" y2="286.3" stroke="#666" stroke-width="0.8"/>
<text x="507.5" y="289.2" font-size="8.6" text-anchor="end" font-weight="normal" fill="#333" font-family="Liberation Serif" textLength="10.0" lengthAdjust="spacingAndGlyphs">20</text>
<line x1="510.5" y1="269.3" x2="513.1" y2="269.3" stroke="#666" stroke-width="0.8"/>
<text x="507.5" y="272.2" font-size="8.6" text-anchor="end" font-weight="normal" fill="#333" font-family="Liberation Serif" textLength="10.0" lengthAdjust="spacingAndGlyphs">40</text>
<line x1="510.5" y1="252.4" x2="513.1" y2="252.4" stroke="#666" stroke-width="0.8"/>
<text x="507.5" y="255.3" font-size="8.6" text-anchor="end" font-weight="normal" fill="#333" font-family="Liberation Serif" textLength="10.0" lengthAdjust="spacingAndGlyphs">60</text>
<line x1="510.5" y1="235.4" x2="513.1" y2="235.4" stroke="#666" stroke-width="0.8"/>
<text x="507.5" y="238.3" font-size="8.6" text-anchor="end" font-weight="normal" fill="#333" font-family="Liberation Serif" textLength="10.0" lengthAdjust="spacingAndGlyphs">80</text>
<line x1="510.5" y1="218.5" x2="513.1" y2="218.5" stroke="#666" stroke-width="0.8"/>
<text x="507.5" y="221.4" font-size="8.6" text-anchor="end" font-weight="normal" fill="#333" font-family="Liberation Serif" textLength="15.0" lengthAdjust="spacingAndGlyphs">100</text>
<line x1="510.5" y1="201.6" x2="513.1" y2="201.6" stroke="#666" stroke-width="0.8"/>
<text x="507.5" y="204.5" font-size="8.6" text-anchor="end" font-weight="normal" fill="#333" font-family="Liberation Serif" textLength="15.0" lengthAdjust="spacingAndGlyphs">120</text>
<line x1="518.5" y1="308.8" x2="518.5" y2="311.4" stroke="#666" stroke-width="0.8"/>
<text x="518.5" y="319.8" font-size="8.8" text-anchor="middle" font-weight="normal" fill="#2a2a2a" font-family="Liberation Serif" textLength="11.2" lengthAdjust="spacingAndGlyphs">0.0</text>
<line x1="565.1" y1="308.8" x2="565.1" y2="311.4" stroke="#666" stroke-width="0.8"/>
<text x="565.1" y="319.8" font-size="8.8" text-anchor="middle" font-weight="normal" fill="#2a2a2a" font-family="Liberation Serif" textLength="11.2" lengthAdjust="spacingAndGlyphs">0.2</text>
<line x1="611.7" y1="308.8" x2="611.7" y2="311.4" stroke="#666" stroke-width="0.8"/>
<text x="611.7" y="319.8" font-size="8.8" text-anchor="middle" font-weight="normal" fill="#2a2a2a" font-family="Liberation Serif" textLength="11.2" lengthAdjust="spacingAndGlyphs">0.4</text>
<text x="538.7" y="184.2" font-size="12.4" text-anchor="start" font-weight="normal" fill="#111" font-family="Liberation Serif" textLength="72.9" lengthAdjust="spacingAndGlyphs" stroke="#111" stroke-width="0.10">(c) OLMA Loss</text>
<text transform="translate(489.2,257.4) rotate(-90)" x="0" y="0" font-size="11.5" text-anchor="middle" font-family="Liberation Serif" fill="#111" stroke="#111" stroke-width="0.2" textLength="49.2" lengthAdjust="spacingAndGlyphs">Magnitude</text>
<text x="519.5" y="336.6" font-size="12.2" text-anchor="start" font-weight="normal" fill="#111" font-family="Liberation Serif" textLength="111.7" lengthAdjust="spacingAndGlyphs" stroke="#111" stroke-width="0.10">Frequency (Normalized)</text>
<polyline points="518.3,196.2 520.6,300.7 522.8,302.7 524.2,302.7 526.2,301.9 527.8,300.2 529.2,302.7 531.2,303.3 533.2,302.2 535.2,302.9 536.0,302.6 538.0,302.7 540.0,303.0 542.0,303.1 544.0,303.0 546.0,302.8 548.0,303.3 550.0,302.6 552.0,303.1 554.0,303.1 556.0,303.1 558.0,303.3 560.0,303.0 562.0,303.0 564.0,303.3 566.0,302.9 568.0,303.2 570.0,303.1 572.0,302.7 574.0,302.6 576.0,302.6 578.0,302.8 580.0,302.6 582.0,302.8 584.0,303.0 586.0,303.0 588.0,303.1 590.0,302.7 592.0,303.2 594.0,302.9 596.0,302.9 598.0,302.8 600.0,303.3 602.0,302.9 604.0,303.2 606.0,302.6 608.0,302.9 610.0,302.7 612.0,303.3 614.0,302.7 616.0,303.2 618.0,302.9 620.0,302.8 622.0,303.2 624.0,303.0 626.0,303.2 628.0,303.0 630.0,303.1 632.0,303.1" fill="none" stroke="#5162b6" stroke-width="1.4" stroke-linejoin="round"/>
<polyline points="518.3,199.0 520.6,300.7 522.8,302.7 524.2,302.7 526.2,301.9 527.8,300.2 529.2,302.7 531.2,303.3 533.2,302.2 535.2,302.9 536.0,302.6 538.0,302.7 540.0,303.0 542.0,303.1 544.0,303.0 546.0,302.8 548.0,303.3 550.0,302.6 552.0,303.1 554.0,303.1 556.0,303.1 558.0,303.3 560.0,303.0 562.0,303.0 564.0,303.3 566.0,302.9 568.0,303.2 570.0,303.1 572.0,302.7 574.0,302.6 576.0,302.6 578.0,302.8 580.0,302.6 582.0,302.8 584.0,303.0 586.0,303.0 588.0,303.1 590.0,302.7 592.0,303.2 594.0,302.9 596.0,302.9 598.0,302.8 600.0,303.3 602.0,302.9 604.0,303.2 606.0,302.6 608.0,302.9 610.0,302.7 612.0,303.3 614.0,302.7 616.0,303.2 618.0,302.9 620.0,302.8 622.0,303.2 624.0,303.0 626.0,303.2 628.0,303.0 630.0,303.1 632.0,303.1" fill="none" stroke="#f0a150" stroke-width="1.4" stroke-linejoin="round"/>
<line x1="515.5" y1="194.4" x2="571.1" y2="231.5" stroke="#555" stroke-width="0.7" stroke-dasharray="2,1.6"/>
<line x1="522.4" y1="194.4" x2="590.6" y2="231.5" stroke="#555" stroke-width="0.7" stroke-dasharray="2,1.6"/>
<line x1="515.5" y1="202.3" x2="571.1" y2="250.6" stroke="#555" stroke-width="0.7" stroke-dasharray="2,1.6"/>
<line x1="522.4" y1="202.3" x2="590.6" y2="250.6" stroke="#555" stroke-width="0.7" stroke-dasharray="2,1.6"/>
<line x1="523.2" y1="297.2" x2="560.4" y2="257.6" stroke="#555" stroke-width="0.7" stroke-dasharray="2,1.6"/>
<line x1="536.0" y1="297.2" x2="603.5" y2="257.6" stroke="#555" stroke-width="0.7" stroke-dasharray="2,1.6"/>
<line x1="523.2" y1="304.8" x2="560.4" y2="289.5" stroke="#555" stroke-width="0.7" stroke-dasharray="2,1.6"/>
<line x1="536.0" y1="304.8" x2="603.5" y2="289.5" stroke="#555" stroke-width="0.7" stroke-dasharray="2,1.6"/>
<rect x="515.5" y="194.4" width="6.9" height="7.9" rx="1" fill="none" stroke="#333" stroke-width="1"/>
<rect x="523.2" y="297.2" width="12.8" height="7.6" rx="1" fill="none" stroke="#333" stroke-width="1"/>
<rect x="550.6" y="194.4" width="84.1" height="22.5" rx="1.5" fill="#fff" fill-opacity="0.8" stroke="#dadada" stroke-width="0.8"/>
<line x1="553.5" y1="200.4" x2="571.2" y2="200.4" stroke="#5162b6" stroke-width="1.5"/>
<line x1="553.5" y1="210.9" x2="571.2" y2="210.9" stroke="#f0a150" stroke-width="1.5"/>
<text x="577.3" y="203.5" font-size="9.2" text-anchor="start" font-weight="normal" fill="#333" font-family="Liberation Serif" textLength="52.7" lengthAdjust="spacingAndGlyphs">GroundTruth</text>
<text x="577.3" y="214.0" font-size="9.2" text-anchor="start" font-weight="normal" fill="#333" font-family="Liberation Serif" textLength="41.5" lengthAdjust="spacingAndGlyphs">Prediction</text>
<rect x="571.1" y="231.5" width="19.5" height="19.1" rx="1" fill="#fff" stroke="#404040" stroke-width="1.15"/>
<rect x="579.0" y="233.8" width="3" height="5.5" fill="#5162b6"/>
<rect x="579.0" y="239.3" width="3" height="8.7" fill="#f0a150"/>
<rect x="560.4" y="257.6" width="43.1" height="31.9" rx="1" fill="#fff" stroke="#404040" stroke-width="1.15"/>
<polyline points="564.5,260.7 566.6,266.0 568.4,271.9 570.4,268.3 572.5,276.0 574.9,279.5 576.3,278.4 577.8,274.2 579.6,280.7 582.0,284.3 584.9,282.5 587.2,285.4 590.2,284.3 592.6,284.8 594.9,283.9 597.0,286.0" fill="none" stroke="#5162b6" stroke-width="1.3" stroke-linejoin="round"/>
<polyline points="564.5,260.7 566.0,269.5 567.8,275.4 569.0,278.4 570.4,267.2 571.9,276.6 573.7,282.5 576.0,284.3 578.4,283.9 580.8,283.1 583.1,284.8 584.9,278.9 586.7,285.4 589.0,284.3 592.0,280.7 593.7,285.4 595.5,284.8 597.0,287.2" fill="none" stroke="#f0a150" stroke-width="1.3" stroke-linejoin="round"/>
<polygon points="568.2,287.4 572.2,287.4 570.2,283.4" fill="#e8231e"/>
<text x="586.1" y="268.8" font-size="11.2" text-anchor="start" font-weight="normal" fill="#1a1a1a" font-family="Liberation Serif" textLength="11.8" lengthAdjust="spacingAndGlyphs" stroke="#1a1a1a" stroke-width="0.30">log</text>
</svg></body></html>
